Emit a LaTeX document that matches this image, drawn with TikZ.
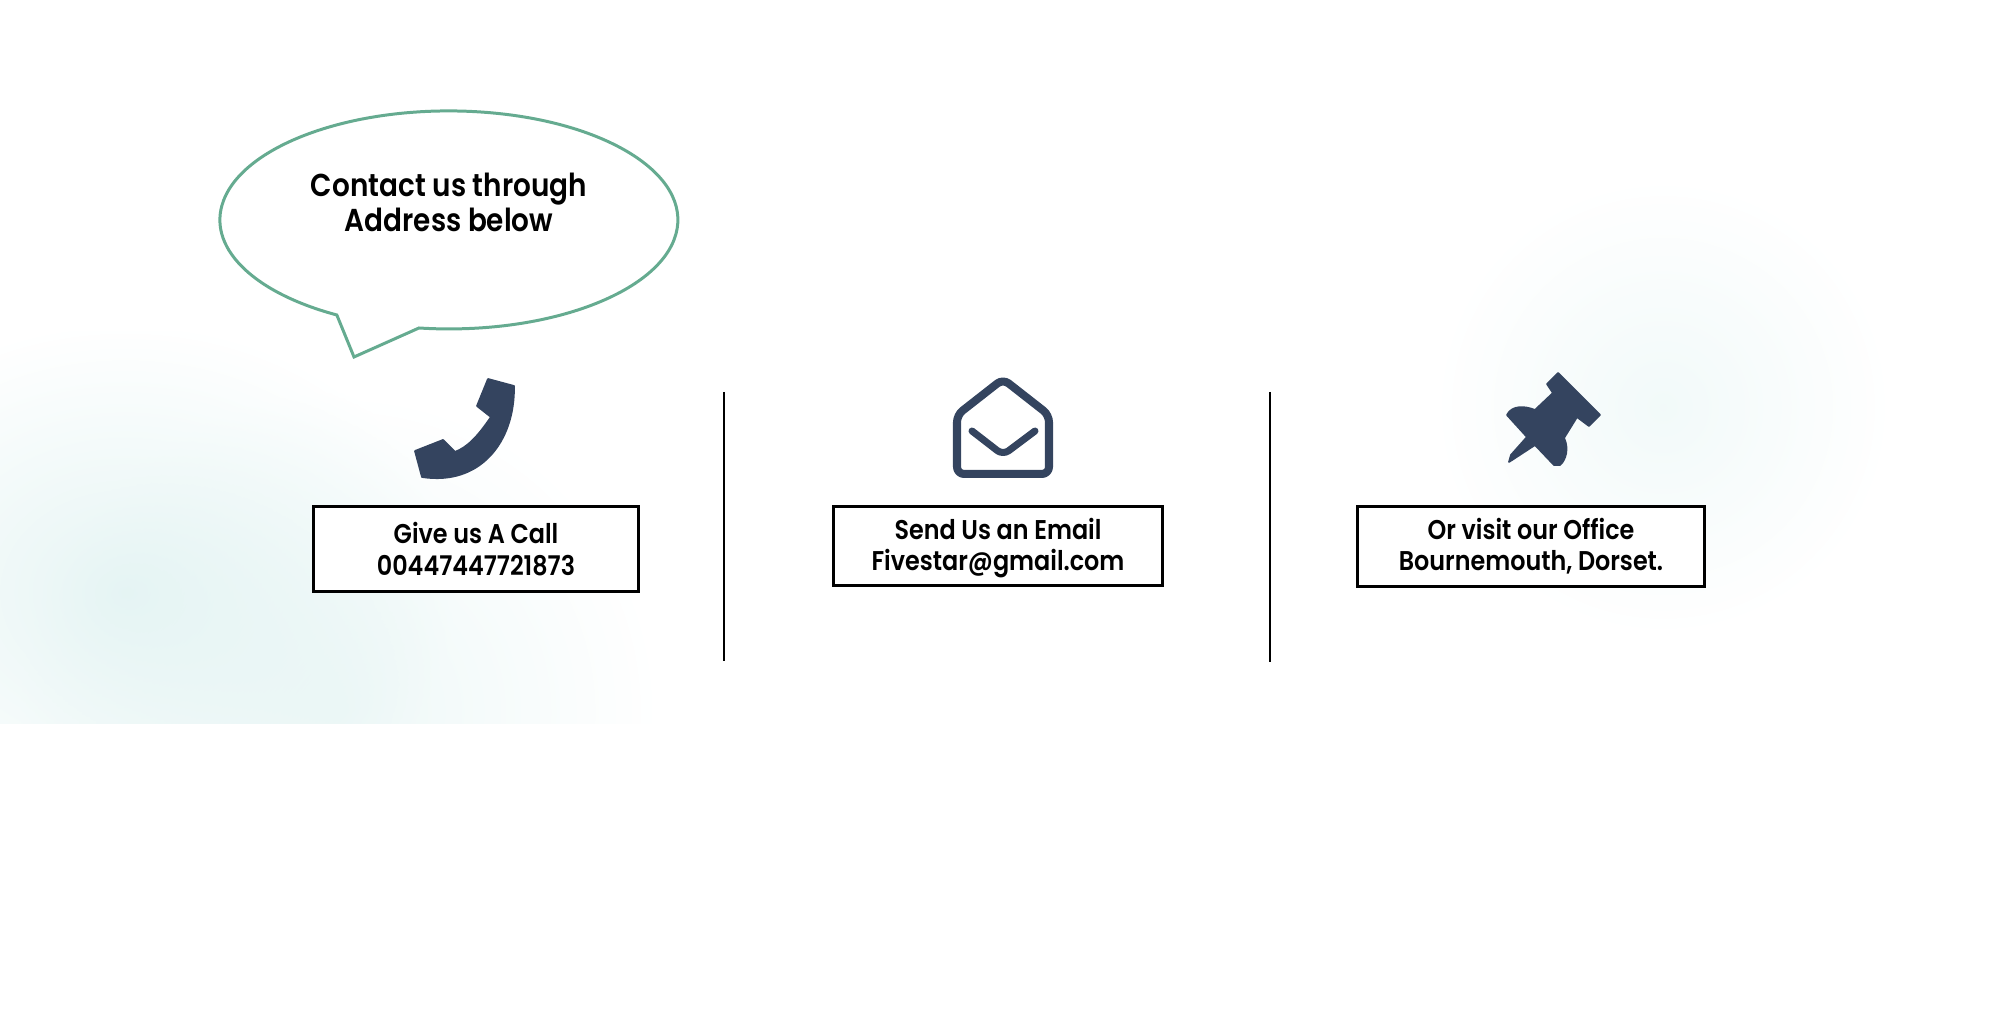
\documentclass[tikz,border=0pt]{standalone}
\usepackage{fontspec}
\setmainfont{Poppins}[BoldFont={Poppins SemiBold},BoldFeatures={FakeStretch=0.88}]
\usetikzlibrary{fadings}
\definecolor{bubblegreen}{HTML}{65AB90}
\definecolor{icondark}{HTML}{34445F}
\definecolor{blobteal}{HTML}{D9EFEE}
\tikzfading[name=softblob,inner color=transparent!0,outer color=transparent!100]
\tikzset{
  infobox/.style={draw=black,fill=white,line width=0.9pt,align=center,inner sep=0pt,font=\fontsize{7.7}{8.9}\selectfont\bfseries},
  icon/.style={fill=icondark,draw=icondark,line width=0.5pt,line join=round},
  iconline/.style={draw=icondark,line width=0.08cm,line join=round,line cap=round},
  divider/.style={draw=black,line width=0.45pt},
  blob/.style={fill=blobteal,path fading=softblob}
}
\begin{document}
\begin{tikzpicture}[scale=0.998]
\useasboundingbox (0,0) rectangle (20.14,10.32);

% soft patches behind the picture
\begin{scope}
\clip (0,3.08) rectangle (6.6,7);
\fill[blob,opacity=0.65] (1.25,4.4) ellipse (3.3 and 2.7);
\fill[blob,opacity=0.45] (3.4,3.2) circle (3.2);
\end{scope}
\fill[blob,opacity=0.35] (16.63,6.25) circle (2.3);

% speech bubble
\draw[draw=bubblegreen,line width=0.85pt,line join=miter] (4.19,7.04) arc (262.5:600.7:2.29 and 1.09) -- (3.54,6.75) -- cycle;
\node[font=\fontsize{9}{9.9}\selectfont\bfseries,align=center] (bubbletext) at (4.49,8.30) {Contact us through\\Address below};

% phone
\filldraw[icon] (4.88,6.53) -- (5.14,6.46) .. controls (5.15,5.9) and (4.80,5.46) .. (4.22,5.55)
  -- (4.15,5.81) -- (4.43,5.92) -- (4.55,5.80) .. controls (4.68,5.85) and (4.78,5.96) .. (4.91,6.15)
  -- (4.77,6.26) -- cycle;

% envelope
\draw[iconline,rounded corners=2pt] (10.03,6.53) -- (10.49,6.17) -- (10.49,5.58) -- (9.57,5.58) -- (9.57,6.17) -- cycle;
\draw[iconline,line width=0.07cm,rounded corners=2pt] (9.72,6.01) -- (10.03,5.77) -- (10.35,6.01);

% pin
\filldraw[icon] (15.47,6.48) -- (15.58,6.59) -- (16.00,6.17) -- (15.89,6.06) -- (15.77,6.15) -- (15.64,5.94)
  .. controls (15.69,5.84) and (15.66,5.72) .. (15.60,5.67) -- (15.54,5.67) -- (15.35,5.87) -- (15.09,5.70)
  -- (15.11,5.77) -- (15.27,5.95) -- (15.07,6.17) .. controls (15.12,6.27) and (15.25,6.26) .. (15.35,6.22)
  -- (15.53,6.39) -- cycle;

% text boxes
\node[infobox,minimum width=3.24cm,minimum height=0.85cm] (callbox) at (4.76,4.83) {Give us A Call\\00447447721873};
\node[infobox,minimum width=3.28cm,minimum height=0.79cm] (mailbox) at (9.98,4.86) {\rule{0pt}{7.2pt}Send Us an Email\\Fivestar@gmail.com};
\node[infobox,minimum width=3.47cm,minimum height=0.80cm] (officebox) at (15.31,4.855) {Or visit our Office\\Bournemouth, Dorset.};

% dividers
\draw[divider] (7.24,6.40) -- (7.24,3.71);
\draw[divider] (12.70,6.40) -- (12.70,3.70);
\end{tikzpicture}
\end{document}
